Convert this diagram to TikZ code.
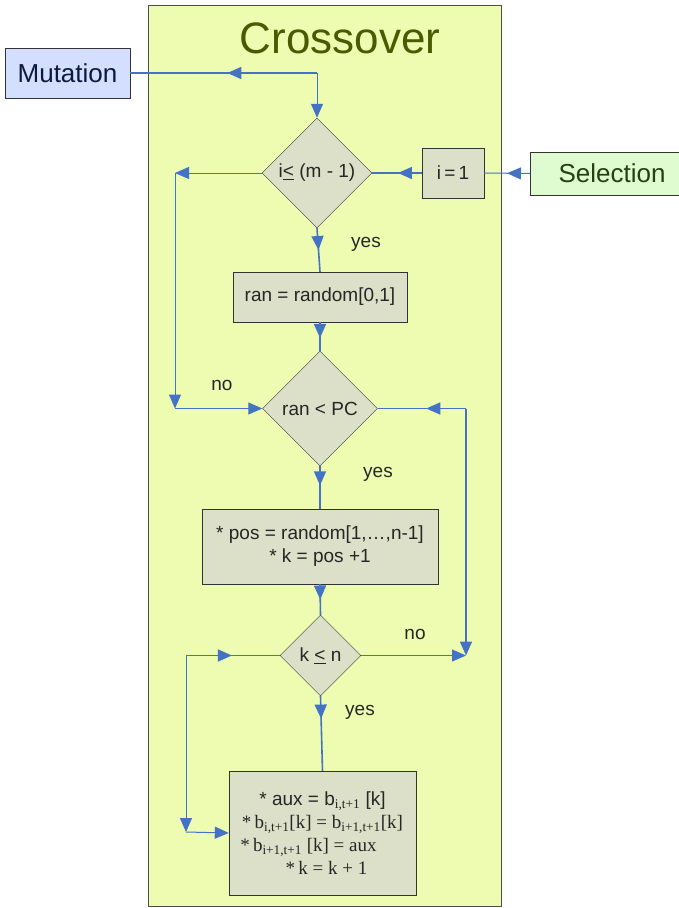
\documentclass[tikz,border=0pt]{standalone}
\usepackage{fontspec}
\setmainfont{Liberation Sans}
\newfontfamily\timesfont{Liberation Serif}
\usetikzlibrary{shapes.geometric,arrows.meta,decorations.markings}
\definecolor{panel}{RGB}{238,252,178}
\definecolor{stepfill}{RGB}{220,224,200}
\definecolor{flow}{RGB}{68,114,196}
\definecolor{titlecol}{RGB}{74,90,0}
\definecolor{mutfill}{RGB}{212,223,255}
\definecolor{selfill}{RGB}{222,252,208}

\begin{document}
\begin{tikzpicture}[x=1pt,y=-1pt,>={Triangle[length=14pt,width=12pt]},
    every node/.style={font=\fontsize{19}{23}\selectfont,text=black!85},
    box/.style={draw=black!80,fill=stepfill,inner sep=0pt},
    cond/.style={draw=black!80,fill=stepfill,diamond,inner sep=0pt,aspect=1},
    link/.style={draw=flow,line width=1.6pt},
    thinlink/.style={draw=flow,line width=1pt},
    midtip/.style={postaction={decorate},decoration={markings,mark=at position #1 with {\arrow{>}}}}]
            \useasboundingbox (0,0) rectangle (678,908);
            % panel and title
            \node[draw=black!70,fill=panel,inner sep=0pt,minimum width=353pt,minimum height=901pt] (panel) at (324.5,455.5) {};
            \node[font=\fontsize{44}{50}\selectfont,text=titlecol] (title) at (340,38) {Crossover};

            \node[draw=black!80,fill=mutfill,inner sep=0pt,minimum width=125pt,minimum height=50pt,font=\fontsize{26}{30}\selectfont,text={rgb,255:red,11;green,26;blue,62}] (mut) at (67.5,73) {Mutation};
            \node[draw=black!80,fill=selfill,inner sep=0pt,minimum width=164pt,minimum height=43pt,font=\fontsize{26}{30}\selectfont,text={rgb,255:red,35;green,66;blue,15}] (sel) at (612,173.5) {Selection};
            \node[box,minimum width=62pt,minimum height=50pt] (i1) at (453,173) {i\,=\,1};

            \node[cond,minimum width=110pt,minimum height=110pt] (d1) at (317,173) {i\underline{<} (m - 1)};
            \node[box,minimum width=174pt,minimum height=50pt] (ran) at (320,297) {ran = random[0,1]};
            \node[cond,minimum width=115pt,minimum height=115pt] (d2) at (320,408.5) {ran < PC};
            \node[box,minimum width=236pt,minimum height=75pt,align=center] (pos) at (320,546.5) {* pos = random[1,\dots,n-1]\\* k = pos +1};
            \node[cond,minimum width=81pt,minimum height=81pt] (d3) at (320.5,655.5) {k \underline{<} n};
            \node[box,minimum width=187pt,minimum height=124pt,align=center] (swap) at (322.5,833) {* aux = b\textsubscript{\timesfont i,t+1} [k]\\
                {\timesfont *\,b\textsubscript{i,t+1}[k] = b\textsubscript{i+1,t+1}[k]}\\
                {\timesfont *\,b\textsubscript{i+1,t+1} [k] = aux}\rule{28pt}{0pt}\\
                \rule{8pt}{0pt}{\timesfont *\,k = k + 1}};

            \node (yes1) at (366,244) {yes};
            \node (no1) at (222,385) {no};
            \node (yes2) at (378,474) {yes};
            \node (no2) at (415,634) {no};
            \node (yes3) at (360,712) {yes};

            \coordinate (top) at (317,73);
            \coordinate (c2) at (175,173);
            \coordinate (c3) at (175,408.5);
            \coordinate (c4) at (466,408.5);
            \coordinate (c5) at (466,655.5);
            \coordinate (c6) at (186,655.5);
            \coordinate (c7) at (186,832);

            \path [link,midtip=0.48] (top) -- (mut.east);
            \path [thinlink,->] (top) -- (d1.north);
            \path [link,midtip=0.48] (i1.west) -- (d1.east);
            \path [thinlink,midtip=0.5] (sel.west) -- (i1.east);
            \path [thinlink,->] (d1.west) -- (c2);
            \path [thinlink,->] (c2) -- (c3);
            \path [thinlink,->] (c3) -- (d2.west);
            \path [link,midtip=0.5] (d1.south) -- (ran.north);
            \path [link,midtip=0.55] (ran.south) -- (d2.north);
            \path [link,midtip=0.45] (d2.south) -- (pos.north);
            \path [link,midtip=0.45] (c4) -- (d2.east);
            \path [link,->] (c4) -- (c5);
            \path [thinlink,->] (d3.east) -- (c5);
            \path [link,midtip=0.5] (pos.south) -- (d3.north);
            \path [link,midtip=0.49] (c6) -- (d3.west);
            \path [thinlink,->] (c6) -- (c7);
            \path [thinlink,->] (c7) -- (swap.west);
            \path [link,midtip=0.3] (d3.south) -- (swap.north);
        \end{tikzpicture}
\end{document}
